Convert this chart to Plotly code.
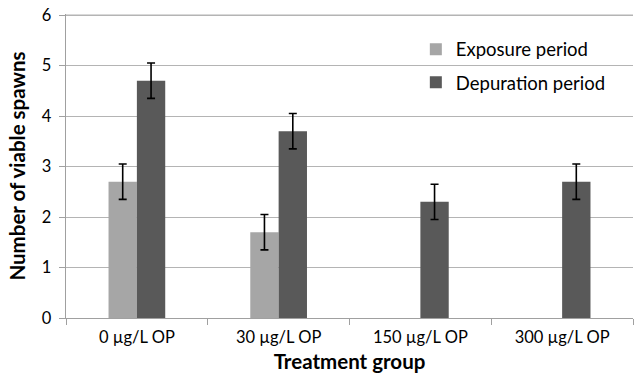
import plotly.graph_objects as go

categories = ["0 \u00b5g/L OP", "30 \u00b5g/L OP", "150 \u00b5g/L OP", "300 \u00b5g/L OP"]
exposure = [2.7, 1.7, None, None]
exposure_err = [0.35, 0.35, None, None]
depuration = [4.7, 3.7, 2.3, 2.7]
depuration_err = [0.35, 0.35, 0.35, 0.35]
y_ticks = [0, 1, 2, 3, 4, 5, 6]

font_family = "Lato, 'Open Sans', sans-serif"
grid_color = "#b4b4b4"

fig = go.Figure()
fig.add_trace(go.Bar(
    x=categories, y=exposure, name="Exposure period",
    marker=dict(color="#a6a6a6", line=dict(width=0)),
    error_y=dict(type="data", array=exposure_err, color="black", thickness=1.6, width=4),
    legendgroup="a",
))
fig.add_trace(go.Bar(
    x=categories, y=depuration, name="Depuration period",
    marker=dict(color="#595959", line=dict(width=0)),
    error_y=dict(type="data", array=depuration_err, color="black", thickness=1.6, width=4),
    legendgroup="b",
))

fig.update_layout(
    width=636, height=379,
    margin=dict(l=66, r=3, t=14, b=61),
    paper_bgcolor="white", plot_bgcolor="white",
    barmode="group", bargap=0.6, bargroupgap=0,
    font=dict(family=font_family, size=16.5, color="black"),
    showlegend=True,
    legend=dict(x=0.617, y=0.945, xanchor="left", yanchor="top",
                bgcolor="rgba(0,0,0,0)", font=dict(size=18.5),
                tracegroupgap=6, itemwidth=30),
    xaxis=dict(
        title=dict(text="<b>Treatment group</b>", standoff=8, font=dict(size=20.5)),
        automargin=False,
        showline=True, linecolor="#a0a0a0", linewidth=1.2,
        ticks="outside", tickson="boundaries", ticklen=6, tickcolor="#a0a0a0",
        ticklabelstandoff=4,
        showgrid=False,
    ),
    yaxis=dict(
        title=dict(text="<b>Number of viable spawns</b>", standoff=10, font=dict(size=20.5)),
        automargin=False,
        range=[0, 6.02], tickmode="array", tickvals=y_ticks,
        ticktext=[f"{v} " for v in y_ticks],
        showline=True, linecolor="#a0a0a0", linewidth=1.2,
        ticks="outside", ticklen=6, tickcolor="#a0a0a0",
        showgrid=True, gridcolor=grid_color, gridwidth=1.2,
        zeroline=False,
    ),
)

# make sure the top gridline (at the last y tick) is drawn
fig.add_shape(type="line", xref="paper", x0=0, x1=1, yref="y",
              y0=y_ticks[-1], y1=y_ticks[-1],
              line=dict(color=grid_color, width=1.2), layer="below")

# remove the browser's default 8px body margin so the figure fills the window
fig.write_html("out.html", config={"displayModeBar": False},
               post_script="document.body.style.margin='0';")
